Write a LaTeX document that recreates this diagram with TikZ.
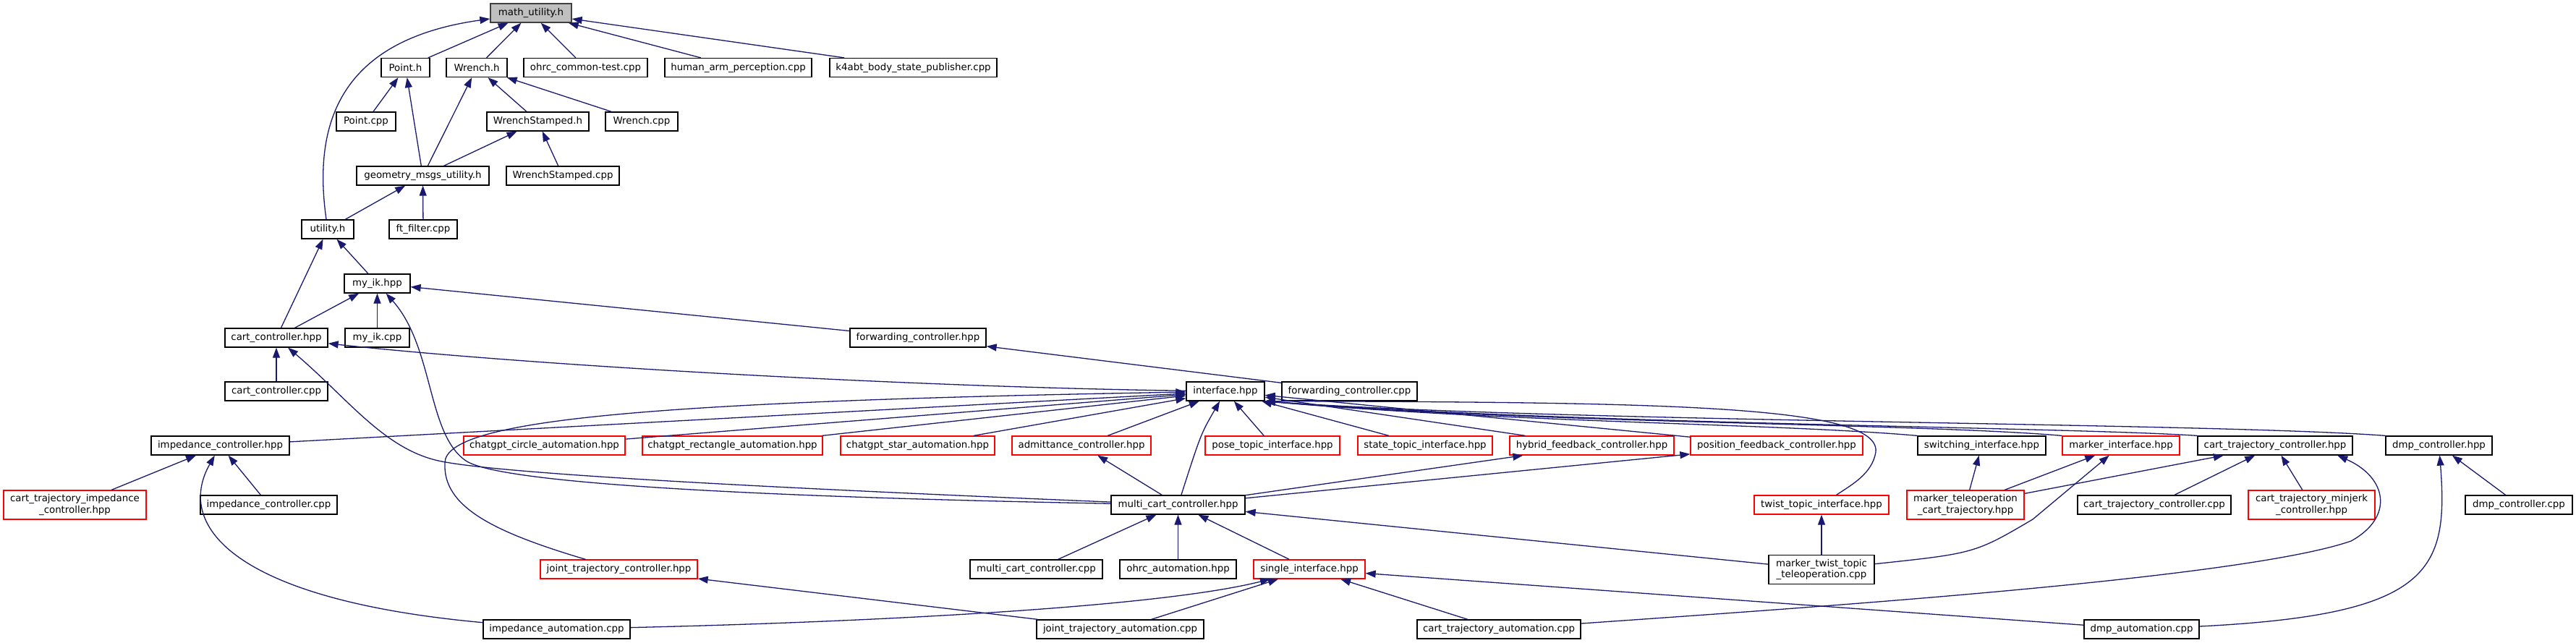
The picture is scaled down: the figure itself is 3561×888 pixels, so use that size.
\documentclass[tikz,border=0pt]{standalone}
\usepackage{fontspec}
\setmainfont{DejaVu Sans}
\usepackage{xcolor}
\usepackage{tikz}
\usetikzlibrary{arrows.meta}
\definecolor{edgeblue}{HTML}{191970}
\definecolor{rootfill}{HTML}{BFBFBF}
\definecolor{rootline}{HTML}{404040}

\begin{document}
\begin{tikzpicture}[
        x=0.2mm, y=-0.2mm,
        box/.style={draw, fill=white, line width=0.26mm, minimum height=5.2mm,
                    inner xsep=0pt, inner ysep=0.5mm, align=center,
                    font=\fontsize{7.6}{8.6}\selectfont},
        redbox/.style={box, draw=red},
        rootbox/.style={box, draw=rootline, fill=rootfill},
        wd/.style={minimum width=#1*0.2mm},
        tall/.style={minimum height=8mm},
        incl/.style={<-, >={Triangle[length=2.8mm, width=2mm]}, draw=edgeblue, line width=0.26mm},
    ]
        \fill[white] (0,0) rectangle (3561,888);
        \useasboundingbox (0,0) rectangle (3561,888);

        \node[rootbox, wd=112] (mathutil) at (734,18) {math\_utility.h};

        \node[box, wd=67] (pointh) at (560.5,93.5) {Point.h};
        \node[box, wd=84] (wrench) at (659,93.5) {Wrench.h};
        \node[box, wd=171] (ohrctest) at (809.5,93.5) {ohrc\_common-test.cpp};
        \node[box, wd=203] (humanarm) at (1020.5,93.5) {human\_arm\_perception.cpp};
        \node[box, wd=231] (kfourabt) at (1262.5,93.5) {k4abt\_body\_state\_publisher.cpp};

        \node[box, wd=82] (pointcpp) at (506,168) {Point.cpp};
        \node[box, wd=141] (wstamped) at (743.5,168) {WrenchStamped.h};
        \node[box, wd=100] (wrenchcpp) at (887,168) {Wrench.cpp};

        \node[box, wd=183] (geommsgs) at (584.5,243) {geometry\_msgs\_utility.h};
        \node[box, wd=156] (wstampedcpp) at (778,243) {WrenchStamped.cpp};

        \node[box, wd=72] (utility) at (453,317) {utility.h};
        \node[box, wd=94] (ftfilter) at (585,317) {ft\_filter.cpp};

        \node[box, wd=91] (myik) at (521.5,392) {my\_ik.hpp};

        \node[box, wd=142] (cartctrl) at (382,467) {cart\_controller.hpp};
        \node[box, wd=89] (myikcpp) at (521.5,467) {my\_ik.cpp};
        \node[box, wd=188] (fwdctrl) at (1269,467) {forwarding\_controller.hpp};

        \node[box, wd=142] (cartctrlcpp) at (382,541) {cart\_controller.cpp};
        \node[box, wd=108] (interface) at (1694,541) {interface.hpp};
        \node[box, wd=187] (fwdctrlcpp) at (1865.5,541) {forwarding\_controller.cpp};

        \node[box, wd=191] (impctrl) at (304.5,616) {impedance\_controller.hpp};
        \node[redbox, wd=223] (gptcircle) at (752.5,616) {chatgpt\_circle\_automation.hpp};
        \node[redbox, wd=249] (gptrect) at (1012.5,616) {chatgpt\_rectangle\_automation.hpp};
        \node[redbox, wd=213] (gptstar) at (1268.5,616) {chatgpt\_star\_automation.hpp};
        \node[redbox, wd=192] (admit) at (1495,616) {admittance\_controller.hpp};
        \node[redbox, wd=186] (posetopic) at (1759,616) {pose\_topic\_interface.hpp};
        \node[redbox, wd=186] (statetopic) at (1970,616) {state\_topic\_interface.hpp};
        \node[redbox, wd=227] (hybridfb) at (2200.5,616) {hybrid\_feedback\_controller.hpp};
        \node[redbox, wd=238] (positionfb) at (2456,616) {position\_feedback\_controller.hpp};
        \node[box, wd=177] (switching) at (2739.5,616) {switching\_interface.hpp};
        \node[redbox, wd=162] (marker) at (2932,616) {marker\_interface.hpp};
        \node[box, wd=214] (carttraj) at (3145,616) {cart\_trajectory\_controller.hpp};
        \node[box, wd=147] (dmpctrl) at (3371.5,616) {dmp\_controller.hpp};

        \node[redbox, wd=197, tall] (carttrajimp) at (103.5,698) {cart\_trajectory\_impedance\\\_controller.hpp};
        \node[box, wd=189] (impctrlcpp) at (371.5,698) {impedance\_controller.cpp};
        \node[box, wd=185] (multicart) at (1628.5,698) {multi\_cart\_controller.hpp};
        \node[redbox, wd=186] (twisttopic) at (2518,698) {twist\_topic\_interface.hpp};
        \node[redbox, wd=162, tall] (markerteleop) at (2717,698) {marker\_teleoperation\\\_cart\_trajectory.hpp};
        \node[box, wd=212] (carttrajcpp) at (2978,698) {cart\_trajectory\_controller.cpp};
        \node[redbox, wd=175, tall] (minjerk) at (3195.5,698) {cart\_trajectory\_minjerk\\\_controller.hpp};
        \node[box, wd=148] (dmpctrlcpp) at (3482,698) {dmp\_controller.cpp};

        \node[redbox, wd=217] (jointtraj) at (855.5,787) {joint\_trajectory\_controller.hpp};
        \node[box, wd=183] (multicartcpp) at (1432.5,787) {multi\_cart\_controller.cpp};
        \node[box, wd=161] (ohrcauto) at (1628.5,787) {ohrc\_automation.hpp};
        \node[redbox, wd=154] (single) at (1810,787) {single\_interface.hpp};
        \node[box, wd=146, tall] (markertwist) at (2518,787.5) {marker\_twist\_topic\\\_teleoperation.cpp};

        \node[box, wd=203] (impauto) at (769.5,870) {impedance\_automation.cpp};
        \node[box, wd=231] (jointtrajauto) at (1548.5,870) {joint\_trajectory\_automation.cpp};
        \node[box, wd=226] (carttrajauto) at (2072,870) {cart\_trajectory\_automation.cpp};
        \node[box, wd=159] (dmpauto) at (2960.5,870) {dmp\_automation.cpp};

        \draw[incl] (mathutil) -- (pointh);
        \draw[incl] (mathutil) -- (wrench);
        \draw[incl] (mathutil) -- (ohrctest);
        \draw[incl] (mathutil) -- (humanarm);
        \draw[incl] (mathutil) -- (kfourabt);
        \draw[incl] (mathutil.188) .. controls (470,55) and (432,170) .. (utility);
        \draw[incl] (pointh) -- (pointcpp);
        \draw[incl] (pointh) -- (geommsgs);
        \draw[incl] (wrench) -- (geommsgs);
        \draw[incl] (wrench) -- (wstamped);
        \draw[incl] (wrench) -- (wrenchcpp);
        \draw[incl] (wstamped) -- (geommsgs);
        \draw[incl] (wstamped) -- (wstampedcpp);
        \draw[incl] (geommsgs) -- (utility);
        \draw[incl] (geommsgs) -- (ftfilter);
        \draw[incl] (utility) -- (cartctrl);
        \draw[incl] (utility) -- (myik);
        \draw[incl] (myik) -- (cartctrl);
        \draw[incl] (myik) -- (myikcpp);
        \draw[incl] (myik) -- (fwdctrl);
        \draw[incl] (myik) .. controls (600,480) and (590,600) .. (644,637)
            .. controls (700,675) and (1200,690) .. (multicart);
        \draw[incl] (cartctrl) -- (cartctrlcpp);
        \draw[incl] (cartctrl) .. controls (720,504) and (1250,535) .. (interface);
        \draw[incl] (cartctrl) .. controls (480,550) and (530,620) .. (606,637)
            .. controls (700,658) and (1200,680) .. (multicart);
        \draw[incl] (fwdctrl) -- (fwdctrlcpp);

        \draw[incl] (interface) -- (impctrl);
        \draw[incl] (interface) -- (gptcircle);
        \draw[incl] (interface) -- (gptrect);
        \draw[incl] (interface) -- (gptstar);
        \draw[incl] (interface) -- (admit);
        \draw[incl] (interface) .. controls (1660,600) .. (multicart);
        \draw[incl] (interface) -- (posetopic);
        \draw[incl] (interface) -- (statetopic);
        \draw[incl] (interface) -- (hybridfb);
        \draw[incl] (interface) -- (positionfb);
        \draw[incl] (interface.south east) .. controls (2100,585) and (2450,585) .. (switching.north west);
        \draw[incl] (interface.south east) .. controls (2100,585) and (2650,585) .. (marker.north west);
        \draw[incl] (interface.south east) .. controls (2150,586) and (2850,590) .. (carttraj.north west);
        \draw[incl] (interface.south east) .. controls (2150,584) and (3050,584) .. (dmpctrl.north west);
        \draw[incl] (interface.south east) .. controls (2300,556) and (2600,560) .. (2593,625)
            .. controls (2588,655) and (2560,670) .. (twisttopic);
        \draw[incl] (interface) .. controls (900,555) and (615,580) .. (615,640)
            .. controls (612,700) and (680,735) .. (jointtraj);

        \draw[incl] (impctrl) -- (carttrajimp);
        \draw[incl] (impctrl) -- (impctrlcpp);
        \draw[incl] (impctrl) .. controls (240,730) and (330,830) .. (impauto);
        \draw[incl] (admit) -- (multicart);
        \draw[incl] (hybridfb) -- (multicart);
        \draw[incl] (positionfb) -- (multicart);
        \draw[incl] (multicart) -- (multicartcpp);
        \draw[incl] (multicart) -- (ohrcauto);
        \draw[incl] (multicart) -- (single);
        \draw[incl] (multicart) -- (markertwist);
        \draw[incl] (jointtraj) -- (jointtrajauto);
        \draw[incl] (single) -- (jointtrajauto);
        \draw[incl] (single) .. controls (1600,840) and (1200,860) .. (impauto);
        \draw[incl] (single) -- (carttrajauto);
        \draw[incl] (single) -- (dmpauto);
        \draw[incl] (twisttopic) -- (markertwist);
        \draw[incl] (switching) -- (markerteleop);
        \draw[incl] (marker) -- (markerteleop);
        \draw[incl] (marker) -- (2810,718) .. controls (2730,765) .. (markertwist);
        \draw[incl] (carttraj) -- (markerteleop);
        \draw[incl] (carttraj) -- (carttrajcpp);
        \draw[incl] (carttraj) -- (minjerk);
        \draw[incl] (carttraj.-9) .. controls (3300,660) and (3310,715) .. (3250,748)
            .. controls (3100,800) and (2500,840) .. (carttrajauto);
        \draw[incl] (dmpctrl) -- (dmpctrlcpp);
        \draw[incl] (dmpctrl) .. controls (3385,790) and (3360,850) .. (dmpauto);
    \end{tikzpicture}
\end{document}
